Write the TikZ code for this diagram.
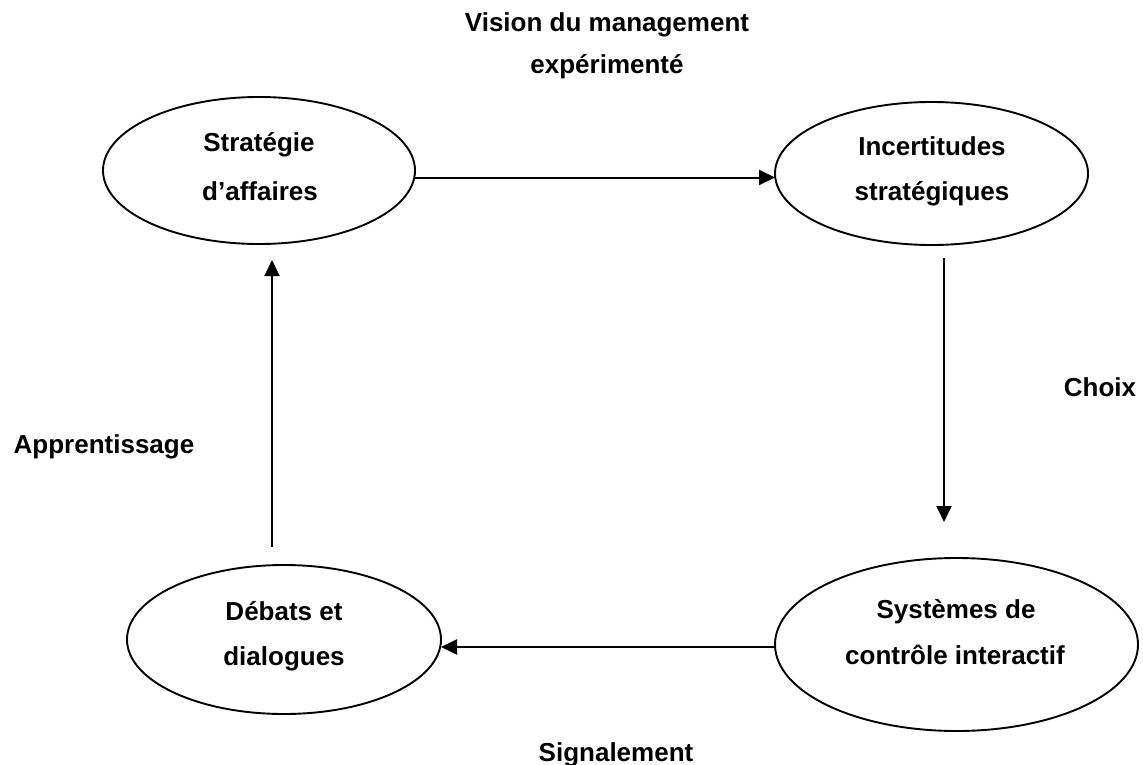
\documentclass[tikz,border=0pt]{standalone}
\usepackage{fontspec}
\setmainfont{Liberation Sans}
\usetikzlibrary{shapes.geometric,arrows.meta}
\tikzset{
  oval/.style={draw=black, ellipse, line width=1.9pt, inner sep=0pt, outer sep=0pt},
  lbl/.style={anchor=base, inner sep=0pt, font=\bfseries\fontsize{26}{30}\selectfont},
  arr/.style={line width=2pt, -{Triangle[length=16pt,width=15pt]}}
}
\begin{document}
\begin{tikzpicture}[x=1pt,y=-1pt]
\useasboundingbox (0,0) rectangle (1143,765);
% ellipses
\node[oval, minimum width=312pt, minimum height=147pt] (strat) at (259,170.5) {};
\node[oval, minimum width=313pt, minimum height=143pt] (inc) at (931.5,173.5) {};
\node[oval, minimum width=314pt, minimum height=149pt] (deb) at (284,639.5) {};
\node[oval, minimum width=363pt, minimum height=173pt] (sys) at (956.5,644.5) {};
% ellipse texts
\node[lbl] (strat1) at (259,152) {Stratégie};
\node[lbl] (strat2) at (260,200) {d’affaires};
\node[lbl] (inc1) at (932,155) {Incertitudes};
\node[lbl] (inc2) at (932,200) {stratégiques};
\node[lbl] (deb1) at (284,620) {Débats et};
\node[lbl] (deb2) at (284,665) {dialogues};
\node[lbl] (sys1) at (956,618) {Systèmes de};
\node[lbl] (sys2) at (955,664) {contrôle interactif};
% free labels
\node[lbl] (vis1) at (607,32) {Vision du management};
\node[lbl] (vis2) at (607,74) {expérimenté};
\node[lbl] (choix) at (1100,396) {Choix};
\node[lbl] (appr) at (104,453) {Apprentissage};
\node[lbl] (sign) at (616,761) {Signalement};
% connectors
\draw[arr] ([yshift=-7pt]strat.east) -- ([yshift=-7pt]strat.east -| inc.west);
\draw[arr] ([xshift=12.5pt,yshift=-13pt]inc.south) -- ([xshift=-12.5pt,yshift=36pt]sys.north);
\draw[arr] ([yshift=-2.5pt]sys.west) -- ([yshift=-2.5pt]sys.west -| deb.east);
\draw[arr] ([xshift=-12pt,yshift=18pt]deb.north) -- ([xshift=13pt,yshift=-16pt]strat.south);
\end{tikzpicture}
\end{document}
